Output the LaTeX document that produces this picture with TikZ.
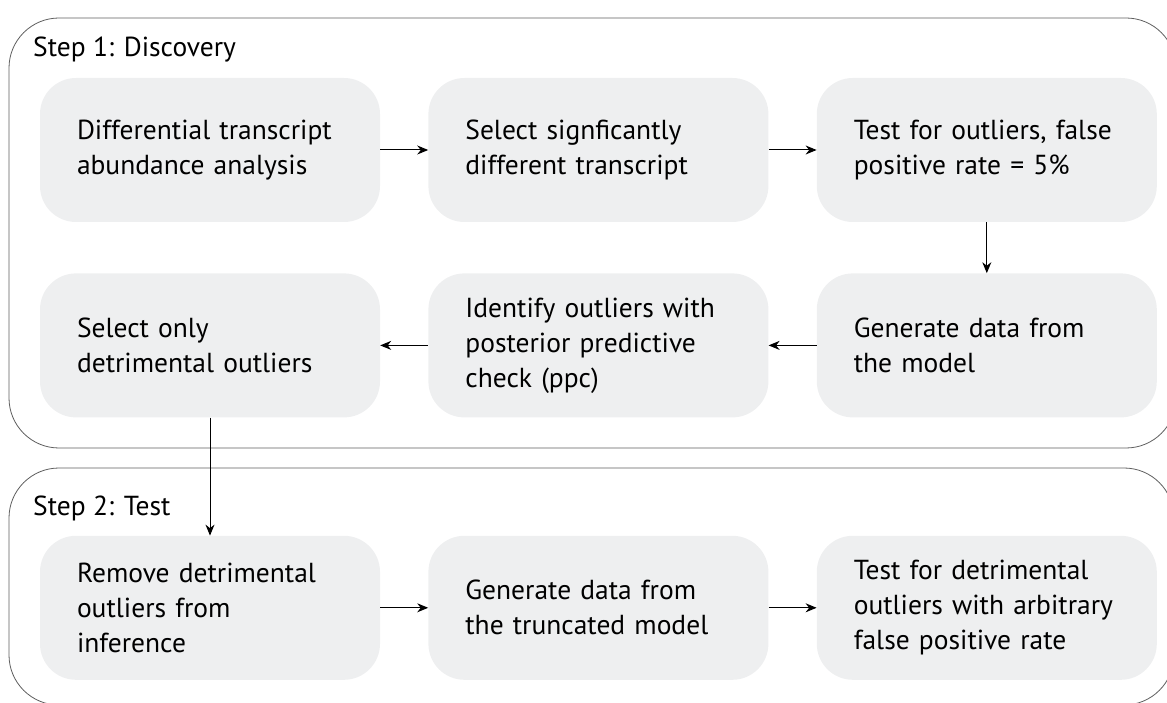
\documentclass[tikz,border=0pt]{standalone}
\usepackage{fontspec}
\setmainfont{PT Sans}
\usepackage{xcolor}
\definecolor{cBox}  {HTML}{EEEFF0}
\definecolor{cFrame}{HTML}{5E5E5E}
\usetikzlibrary{arrows.meta, positioning}
\tikzset{
  blk/.style = {rectangle, rounded corners=36pt, fill=cBox, draw=none,
                minimum height=144pt, text width=266pt, inner xsep=37pt,
                align=left, font=\fontsize{27.5}{35}\selectfont},
  frm/.style = {draw=cFrame, line width=0.8pt, rounded corners=50pt},
  ttl/.style = {anchor=base west, inner sep=0pt,
                font=\fontsize{27.5}{35}\selectfont},
  arr/.style = {-{Stealth[length=11pt, width=9pt]}, line width=1pt},
}

\begin{document}
\begin{tikzpicture}[x=1pt, y=1pt, node distance=51pt and 48pt]
  \useasboundingbox (0,0) rectangle (1167,702);
  \clip (0,0) rectangle (1167,702);

  % frames of the two steps
  \draw[frm] (9,254) rectangle (1176,684);
  \draw[frm] (9,-3)  rectangle (1174,234);
  \node[ttl] (s1) at (33,645) {Step 1: Discovery};
  \node[ttl] (s2) at (33,187) {Step 2: Test};

  % step 1
  \node[blk] (diff) at (210,552)
        {Differential transcript\\abundance analysis};
  \node[blk, right=of diff] (sel)
        {Select signficantly\\different transcript};
  \node[blk, right=of sel]  (fpr)
        {Test for outliers, false\\positive rate = 5\%};
  \node[blk, below=of fpr]  (gen)
        {Generate data from\\the model};
  \node[blk, left=of gen]   (ppc)
        {Identify outliers with\\posterior predictive\\check (ppc)};
  \node[blk, left=of ppc]   (only)
        {Select only\\detrimental outliers};

  % step 2
  \node[blk, below=118pt of only] (rem)
        {Remove detrimental\\outliers from\\inference};
  \node[blk, right=of rem]  (trunc)
        {Generate data from\\the truncated model};
  \node[blk, right=of trunc] (arb)
        {Test for detrimental\\outliers with arbitrary\\false positive rate};

  \draw[arr] (diff)  -- (sel);
  \draw[arr] (sel)   -- (fpr);
  \draw[arr] (fpr)   -- (gen);
  \draw[arr] (gen)   -- (ppc);
  \draw[arr] (ppc)   -- (only);
  \draw[arr] (only)  -- (rem);
  \draw[arr] (rem)   -- (trunc);
  \draw[arr] (trunc) -- (arb);
\end{tikzpicture}
\end{document}
